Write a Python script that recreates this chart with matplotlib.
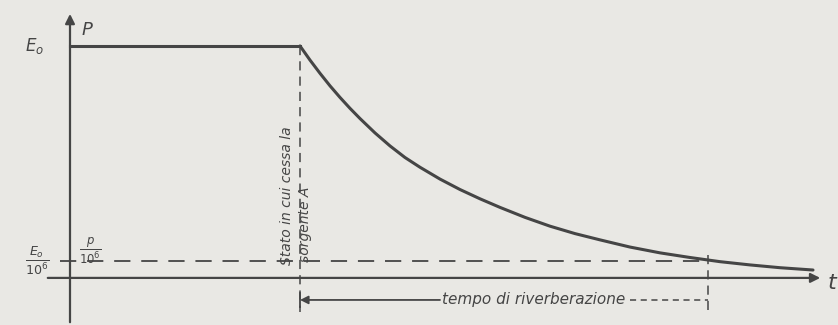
import matplotlib.pyplot as plt

# decay of sound power after the source stops
t_stop = 2.30          # instant the source is switched off
t_reverb_end = 6.38    # where the curve reaches E0/10^6
p_level = 1.0          # steady power E0
p_low = 0.073          # level E0/10^6 (drawn schematically)

decay_t = [2.30, 2.40, 2.50, 2.60, 2.70, 2.80, 2.90, 3.05, 3.20, 3.35,
           3.50, 3.70, 3.90, 4.10, 4.30, 4.55, 4.80, 5.05, 5.30, 5.60,
           5.90, 6.20, 6.50, 6.80, 7.10, 7.43]
decay_p = [1.000, 0.939, 0.882, 0.828, 0.778, 0.731, 0.687, 0.625, 0.569, 0.519,
           0.477, 0.426, 0.381, 0.341, 0.304, 0.261, 0.223, 0.191, 0.164, 0.133,
           0.108, 0.088, 0.070, 0.056, 0.044, 0.034]

ink = '#454545'
paper = '#e9e8e4'

fig = plt.figure(figsize=(8.38, 3.25), dpi=100, facecolor=paper)
ax = fig.add_axes([0, 0, 1, 1])
ax.set_facecolor(paper)
ax.set_xlim(-0.70, 7.68)
ax.set_ylim(-0.203, 1.198)
ax.axis('off')

# axes with arrows
ax.annotate('', xy=(0, 1.15), xytext=(0, -0.203),
            arrowprops=dict(arrowstyle='-|>', color=ink, lw=1.6, mutation_scale=14))
ax.annotate('', xy=(7.53, 0), xytext=(-0.25, 0),
            arrowprops=dict(arrowstyle='-|>', color=ink, lw=1.6, mutation_scale=14))

# steady state and decay
ax.plot([0, t_stop], [p_level, p_level], color=ink, lw=2.2)
ax.plot(decay_t, decay_p, color=ink, lw=2.2, solid_joinstyle='round',
        solid_capstyle='round')

# guide lines
ax.plot([t_stop, t_stop], [p_level, -0.147], color=ink, lw=1.1, ls=(0, (6, 4)))
ax.plot([-0.1, t_reverb_end], [p_low, p_low], color=ink, lw=1.3, ls=(0, (9, 6)))
ax.plot([t_reverb_end, t_reverb_end], [0.099, -0.151], color=ink, lw=1.1, ls=(0, (6, 4)))

# reverberation time span
y_span = -0.095
ax.annotate('', xy=(t_stop, y_span), xytext=(3.70, y_span),
            arrowprops=dict(arrowstyle='-|>', color=ink, lw=1.3, mutation_scale=12,
                            shrinkA=0, shrinkB=0))
ax.plot([t_stop, t_stop], [y_span + 0.03, y_span - 0.03], color=ink, lw=1.3)
ax.text(3.72, y_span, 'tempo di riverberazione', color=ink, fontsize=11,
        style='italic', va='center', ha='left')
ax.plot([5.60, t_reverb_end], [y_span, y_span], color=ink, lw=1.1, ls=(0, (4, 3)))

# labels
ax.text(-0.35, p_level, r'$E_o$', color=ink, fontsize=12, ha='center', va='center')
ax.text(0.12, 1.07, 'P', color=ink, fontsize=13, style='italic', ha='left', va='center')
ax.text(-0.33, p_low, r'$\frac{E_o}{10^6}$', color=ink, fontsize=13, ha='center', va='center')
ax.text(0.20, 0.115, r'$\frac{p}{10^6}$', color=ink, fontsize=12, ha='center', va='center')
ax.text(7.58, -0.02, 't', color=ink, fontsize=16, style='italic', ha='left', va='center')

ax.text(2.17, 0.056, 'Stato in cui cessa la', color=ink, fontsize=10, style='italic',
        rotation=90, ha='center', va='bottom')
ax.text(2.35, 0.068, 'sorgente A', color=ink, fontsize=10, style='italic',
        rotation=90, ha='center', va='bottom')

fig.savefig('out.png', dpi=100, facecolor=paper)
